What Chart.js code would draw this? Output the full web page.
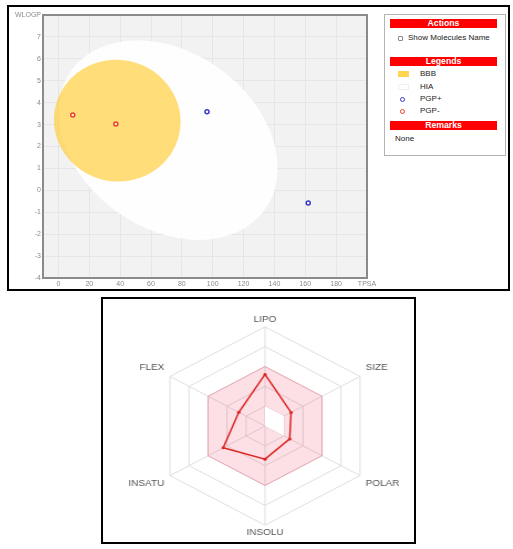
<!DOCTYPE html>
<html>
<head>
<meta charset="utf-8">
<title>BOILED-Egg and Bioavailability Radar</title>
<script src="https://cdn.jsdelivr.net/npm/chart.js@4.4.1/dist/chart.umd.min.js"></script>
<style>
  html, body { margin: 0; padding: 0; background: #fff; }
  body {
    width: 513px; height: 549px; position: relative; overflow: hidden;
    font-family: "Liberation Sans", Arial, sans-serif;
  }
  .frame { position: absolute; box-sizing: border-box; border: 2px solid #000; }
  #eggBox { position: absolute; left: 0; top: 0; width: 380px; height: 292px; }
  #radarBox {
    position: absolute; left: 120px; top: 315px; width: 290px; height: 224px;
    transform: scaleX(1.106); transform-origin: 145px 50%;
  }
  .panel {
    position: absolute; left: 384px; top: 14px; width: 122px; height: 142px;
    box-sizing: border-box; border: 1px solid #b4b4b4;
  }
  .bar {
    position: absolute; left: 390px; width: 107px; height: 9px;
    background: #ff0000; color: #fff; font-weight: bold; font-size: 8.7px;
    line-height: 9px; text-align: center;
  }
  .txt { position: absolute; font-size: 8px; line-height: 10px; color: #222; white-space: nowrap; }
  .check {
    position: absolute; left: 398px; top: 35.5px; width: 5px; height: 5px;
    box-sizing: border-box; border: 1px solid #8a8a8a; border-radius: 1px;
  }
  .swatch { position: absolute; left: 398px; width: 11px; height: 6px; box-sizing: border-box; }
  .dot {
    position: absolute; width: 5px; height: 5px; box-sizing: border-box;
    border-radius: 50%; border: 1.5px solid; background: rgba(255,255,255,0.6);
  }
</style>
</head>
<body>

<div class="frame" style="left:7px; top:5px; width:503px; height:286px;"></div>
<div class="frame" style="left:101px; top:297px; width:315px; height:247px;"></div>

<div id="eggBox"><canvas id="eggChart"></canvas></div>

<!-- side panel -->
<div class="panel"></div>
<div class="bar" style="top:19px;">Actions</div>
<div class="check"></div>
<div class="txt" style="left:408px; top:33px;">Show Molecules Name</div>
<div class="bar" style="top:56.5px;">Legends</div>
<div class="swatch" style="top:71px; background:#ffd54f;"></div>
<div class="txt" style="left:420px; top:69px;">BBB</div>
<div class="swatch" style="top:84px; background:#fff; border:1px solid #f0f0f0;"></div>
<div class="txt" style="left:420px; top:82px;">HIA</div>
<div class="dot" style="left:400px; top:96.5px; border-color:#3838d0;"></div>
<div class="txt" style="left:420px; top:94px;">PGP+</div>
<div class="dot" style="left:400px; top:108.5px; border-color:#e8402f;"></div>
<div class="txt" style="left:420px; top:106px;">PGP-</div>
<div class="bar" style="top:121px;">Remarks</div>
<div class="txt" style="left:395px; top:133.5px;">None</div>

<div id="radarBox"><canvas id="radarChart"></canvas></div>

<script>
// ── BOILED-Egg data ────────────────────────────────────────
const xTickValues = [0, 20, 40, 60, 80, 100, 120, 140, 160, 180, 200];
const xTickLabels = ['0', '20', '40', '60', '80', '100', '120', '140', '160', '180', 'TPSA'];
const yTickValues = [-4, -3, -2, -1, 0, 1, 2, 3, 4, 5, 6, 7, 8];
const yTickLabels = ['-4', '-3', '-2', '-1', '0', '1', '2', '3', '4', '5', '6', '7', 'WLOGP'];

// egg regions: white (HIA) then yolk (BBB), in TPSA / WLOGP units
const eggNames  = ['HIA', 'BBB'];
const eggTpsa   = [71.051, 38.117];
const eggWlogp  = [2.292, 3.177];
const eggWidth  = [142.081, 82.061];
const eggHeight = [8.740, 5.557];
const eggAngle  = [-1.031325, -0.066989];   // degrees, in data space

// molecules
const pgpPlusTpsa   = [96.3, 161.9];
const pgpPlusWlogp  = [3.58, -0.58];
const pgpMinusTpsa  = [9.3, 37.2];
const pgpMinusWlogp = [3.44, 3.03];

// ── Bioavailability radar data ─────────────────────────────
const radarLabels    = ['LIPO', 'SIZE', 'POLAR', 'INSOLU', 'INSATU', 'FLEX'];
const moleculeValues = [2.6, 1.37, 1.3, 1.67, 2.2, 1.38];
const optimalUpper   = [3, 3, 3, 3, 3, 3];
const optimalLower   = [1, 1, 1, 0, 0, 0];
const radarMax = 5;

const FONT = '"Liberation Sans", Arial, sans-serif';
const eggColors = { HIA: 'rgba(255,255,255,0.92)', BBB: 'rgba(255,204,51,0.65)' };

const toPoints = (xs, ys) => xs.map((v, i) => ({ x: v, y: ys[i] }));

// background, egg shapes and plot frame
const eggPlugin = {
  id: 'eggPlot',
  beforeDraw(chart) {
    const { ctx, chartArea: a } = chart;
    ctx.save();
    ctx.fillStyle = '#f2f2f2';
    ctx.fillRect(a.left, a.top, a.right - a.left, a.bottom - a.top);
    ctx.restore();
  },
  beforeDatasetsDraw(chart) {
    const { ctx, chartArea: a, scales: { x, y } } = chart;
    const sx = x.getPixelForValue(1) - x.getPixelForValue(0);
    const sy = y.getPixelForValue(0) - y.getPixelForValue(1);
    ctx.save();
    ctx.beginPath();
    ctx.rect(a.left, a.top, a.right - a.left, a.bottom - a.top);
    ctx.clip();
    eggNames.forEach((name, i) => {
      ctx.save();
      ctx.translate(x.getPixelForValue(eggTpsa[i]), y.getPixelForValue(eggWlogp[i]));
      ctx.scale(sx, -sy);
      ctx.rotate(eggAngle[i] * Math.PI / 180);
      ctx.beginPath();
      ctx.ellipse(0, 0, eggWidth[i] / 2, eggHeight[i] / 2, 0, 0, Math.PI * 2);
      ctx.restore();
      ctx.fillStyle = eggColors[name];
      ctx.fill();
    });
    ctx.restore();
  },
  afterDraw(chart) {
    const { ctx, chartArea: a } = chart;
    ctx.save();
    ctx.strokeStyle = '#8a8a8a';
    ctx.lineWidth = 2;
    ctx.strokeRect(a.left, a.top, a.right - a.left, a.bottom - a.top);
    ctx.restore();
  }
};

const tickFont = { family: FONT, size: 7 };

new Chart(document.getElementById('eggChart'), {
  type: 'scatter',
  data: {
    datasets: [
      {
        label: 'PGP-',
        data: toPoints(pgpMinusTpsa, pgpMinusWlogp),
        borderColor: '#e8402f',
        backgroundColor: 'rgba(255,255,255,0.55)',
        pointRadius: 2,
        pointBorderWidth: 1.5
      },
      {
        label: 'PGP+',
        data: toPoints(pgpPlusTpsa, pgpPlusWlogp),
        borderColor: '#3838d0',
        backgroundColor: 'rgba(255,255,255,0.55)',
        pointRadius: 2,
        pointBorderWidth: 1.5
      }
    ]
  },
  options: {
    responsive: true,
    maintainAspectRatio: false,
    animation: false,
    layout: { padding: { top: 15, right: 13, bottom: 0, left: 0 } },
    plugins: { legend: { display: false }, tooltip: { enabled: false } },
    scales: {
      x: {
        type: 'linear',
        min: -10,
        max: 200,
        afterBuildTicks: s => { s.ticks = xTickValues.map(v => ({ value: v })); },
        afterFit: s => { s.height = 14; },
        ticks: {
          callback: (v, i) => xTickLabels[i],
          color: '#8a8a8a', font: tickFont, padding: 2,
          maxRotation: 0, autoSkip: false
        },
        grid: { color: '#e6e6e6', drawTicks: false },
        border: { display: false }
      },
      y: {
        type: 'linear',
        min: -4,
        max: 8,
        afterBuildTicks: s => { s.ticks = yTickValues.map(v => ({ value: v })); },
        afterFit: s => { s.width = 43; },
        ticks: {
          callback: (v, i) => yTickLabels[i],
          color: '#8a8a8a', font: tickFont, padding: 2, autoSkip: false
        },
        grid: { color: '#e6e6e6', drawTicks: false },
        border: { display: false }
      }
    }
  },
  plugins: [eggPlugin]
});

// ── Radar ──────────────────────────────────────────────────
new Chart(document.getElementById('radarChart'), {
  type: 'radar',
  data: {
    labels: radarLabels,
    datasets: [
      {
        label: 'Molecule',
        data: moleculeValues,
        borderColor: '#dd2424',
        borderWidth: 1.5,
        pointRadius: 1.5,
        pointBackgroundColor: '#dd2424',
        pointBorderWidth: 0,
        fill: false
      },
      {
        label: 'Lower limit',
        data: optimalLower,
        borderColor: 'rgba(0,0,0,0)',
        borderWidth: 0,
        backgroundColor: '#ffffff',
        pointRadius: 0,
        fill: true
      },
      {
        label: 'Optimal range',
        data: optimalUpper,
        borderColor: 'rgba(230,0,40,0.22)',
        borderWidth: 1,
        backgroundColor: 'rgba(230,0,40,0.12)',
        pointRadius: 0,
        fill: true
      }
    ]
  },
  options: {
    responsive: true,
    maintainAspectRatio: false,
    animation: false,
    plugins: { legend: { display: false }, tooltip: { enabled: false } },
    elements: { line: { tension: 0 } },
    scales: {
      r: {
        min: 0,
        max: radarMax,
        ticks: { display: false, stepSize: 1 },
        grid: { color: '#dedede', lineWidth: 1 },
        angleLines: { color: '#dedede', lineWidth: 1 },
        pointLabels: {
          color: '#555',
          font: { family: FONT, size: 9, lineHeight: 1.2 },
          padding: c => (c.index % 3 === 0 ? 2 : 6)
        }
      }
    }
  }
});
</script>
</body>
</html>
